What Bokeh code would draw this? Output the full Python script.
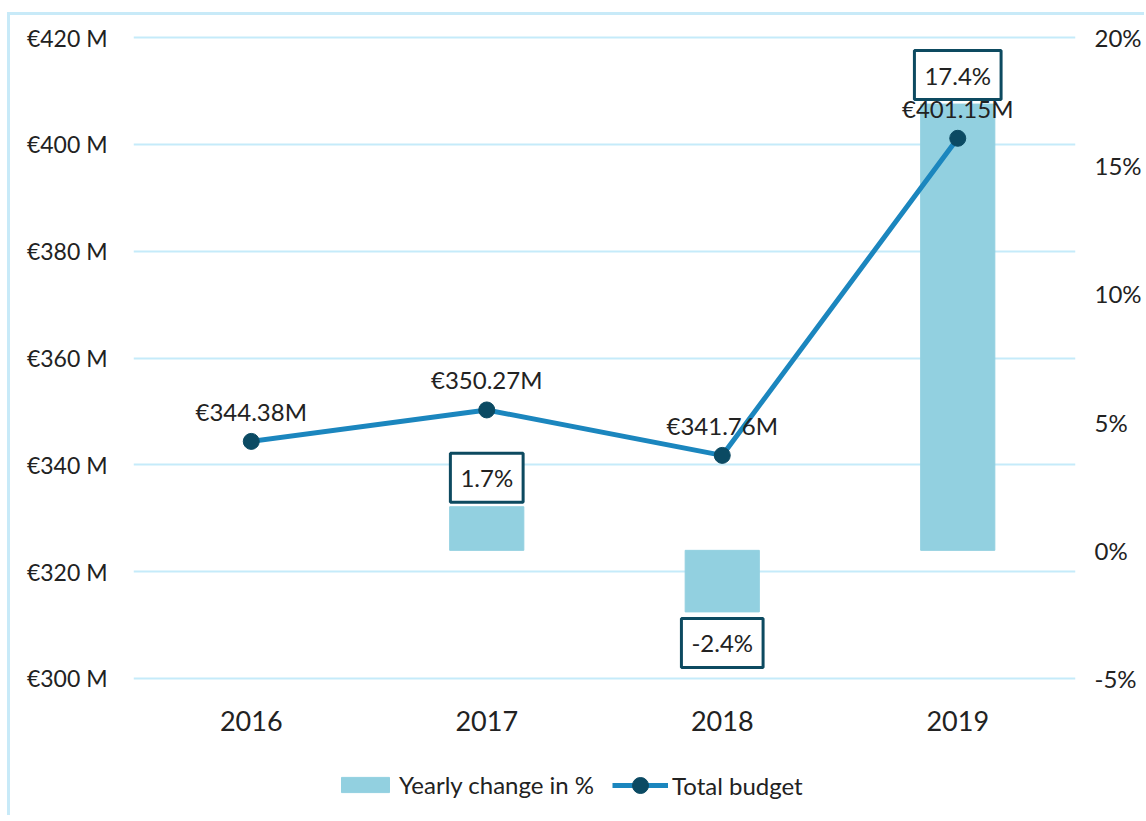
from bokeh.plotting import figure
from bokeh.layouts import column
from bokeh.models import (Range1d, LinearAxis, FixedTicker, PrintfTickFormatter,
                          FactorRange, Legend, LegendItem)
from bokeh.core.properties import value
from bokeh.embed import file_html
from bokeh.resources import INLINE

years = ["2016", "2017", "2018", "2019"]
budget = [344.38, 350.27, 341.76, 401.15]
budget_labels = ["€344.38M", "€350.27M", "€341.76M", "€401.15M"]
change_years = ["2017", "2018", "2019"]
change_pct = [1.7, -2.4, 17.4]
change_labels = ["1.7%", "-2.4%", "17.4%"]
left_ticks = [300, 320, 340, 360, 380, 400, 420]
right_ticks = [-5, 0, 5, 10, 15, 20]

FONT = "Lato"
BAR = "#92D0E0"
LINE = "#1B86BE"
DOT = "#0B4A63"
GRID = "#C5EBFA"
TXT = "#222222"

p = figure(x_range=FactorRange(*years, range_padding=0), y_range=Range1d(299.6, 420.4),
           width=1134, height=730, output_backend="svg", toolbar_location=None,
           min_border_left=123, min_border_right=67, min_border_top=20, min_border_bottom=65)
p.extra_y_ranges = {"pct": Range1d(-5.075, 20.075)}
p.outline_line_color = None
p.xgrid.visible = False
p.ygrid.grid_line_color = GRID
p.ygrid.grid_line_width = 2

p.yaxis.ticker = FixedTicker(ticks=left_ticks)
p.yaxis.formatter = PrintfTickFormatter(format="€%d M")
for ax in [p.yaxis[0], p.xaxis[0]]:
    ax.axis_line_color = None
    ax.major_tick_line_color = None
    ax.minor_tick_line_color = None
    ax.major_label_text_font = FONT
    ax.major_label_text_color = TXT
p.yaxis.major_label_text_font_size = "23px"
p.yaxis.major_label_standoff = 20
p.xaxis.major_label_text_font_size = "27px"
p.xaxis.major_label_standoff = 24

rax = LinearAxis(y_range_name="pct", ticker=FixedTicker(ticks=right_ticks),
                 formatter=PrintfTickFormatter(format="%d%%"))
rax.axis_line_color = None
rax.major_tick_line_color = None
rax.minor_tick_line_color = None
rax.major_label_text_font = FONT
rax.major_label_text_font_size = "24px"
rax.major_label_text_color = TXT
rax.major_label_standoff = 13
p.add_layout(rax, "right")

p.vbar(x=change_years, top=change_pct, bottom=0, width=0.315, y_range_name="pct", color=BAR)
p.line(years, budget, line_width=5, color=LINE)
p.scatter(years, budget, size=16, color=DOT)

p.text(x=years, y=budget, text=budget_labels, y_offset=-30, text_align="center",
       text_baseline="middle", text_font=value(FONT), text_font_size="24px", text_color=TXT)

offs = [-29 if v > 0 else 31 for v in change_pct]
p.text(x=change_years, y=change_pct, y_range_name="pct", text=change_labels, y_offset=offs,
       text_align="center", text_baseline="middle", text_font=value(FONT),
       text_font_size="24px", text_color=TXT, background_fill_color="white",
       border_line_color="#0D4A60", border_line_width=3, padding=10)

# legend strip: same series drawn out of view (y range far above the data)
q = figure(x_range=FactorRange(*years, range_padding=0), y_range=Range1d(1000, 1001),
           width=1134, height=70, output_backend="svg", toolbar_location=None,
           x_axis_location=None, y_axis_location=None, min_border=0)
q.outline_line_color = None
q.grid.visible = False
lb = q.vbar(x=change_years, top=change_pct, bottom=0, width=0.315, color=BAR)
ll = q.line(years, budget, line_width=5, color=LINE)
lp = q.scatter(years, budget, size=16, color=DOT)

common = dict(orientation="horizontal", label_text_font=FONT, label_text_font_size="24px",
              label_text_color=TXT, border_line_color=None, background_fill_alpha=0,
              label_standoff=4, padding=6, margin=0)
leg_a = Legend(items=[LegendItem(label="Yearly change in %", renderers=[lb])],
               location=(202, 16), glyph_width=60, glyph_height=19, **common)
leg_b = Legend(items=[LegendItem(label="Total budget", renderers=[ll, lp])],
               location=(479, 10), glyph_width=56, glyph_height=40, **common)
q.add_layout(leg_a, "center")
q.add_layout(leg_b, "center")

layout = column(p, q, spacing=0)
layout.margin = (12, 0, 0, 7)
layout.styles = {"border-left": "3px solid #C8EAF8", "border-top": "3px solid #C8EAF8"}

open("out.html", "w").write(file_html(layout, INLINE))
